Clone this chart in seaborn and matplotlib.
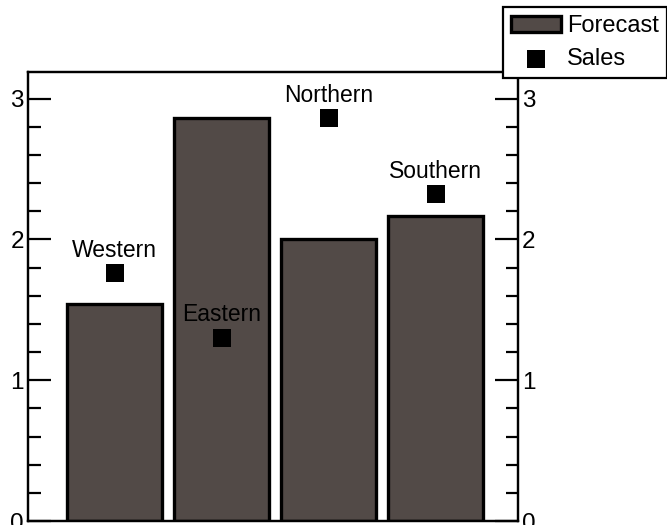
import matplotlib
matplotlib.use('Agg')
import matplotlib.pyplot as plt
import seaborn as sns
import pandas as pd
from matplotlib.ticker import MultipleLocator

# data
regions = ['Western', 'Eastern', 'Northern', 'Southern']
forecast = [1.54, 2.86, 2.0, 2.17]
sales = [1.76, 1.30, 2.86, 2.32]

df = pd.DataFrame({'Region': regions, 'Forecast': forecast, 'Sales': sales})

sns.set_style('ticks')
plt.rcParams['font.family'] = ['Liberation Sans', 'DejaVu Sans']
plt.rcParams['text.color'] = 'black'
plt.rcParams['ytick.color'] = 'black'
plt.rcParams['ytick.labelcolor'] = 'black'

fig = plt.figure(figsize=(6.67, 5.25), dpi=100)
ax = fig.add_axes([28/667, 1 - 521/525, (518 - 28)/667, (521 - 72)/525])

# forecast bars
sns.barplot(data=df, x='Region', y='Forecast', color='#524a47', width=0.89,
            edgecolor='black', linewidth=2.4, saturation=1, label='Forecast', ax=ax)
# sales markers
sns.scatterplot(data=df, x='Region', y='Sales', marker='s', s=160, color='black',
                linewidth=0, label='Sales', ax=ax, zorder=5)

for i, r in df.iterrows():
    ax.annotate(r['Region'], xy=(i, r['Sales']), xytext=(0, 12), textcoords='offset points',
                ha='center', va='baseline', fontsize=16.5, color='black', zorder=6)

ax.set_xlim(-0.81, 3.77)
ax.set_ylim(0, 3.19)
ax.set_xlabel('')
ax.set_ylabel('')
ax.set_xticks([])

for sp in ax.spines.values():
    sp.set_linewidth(1.6)
    sp.set_color('black')

ax.yaxis.set_major_locator(MultipleLocator(1))
ax.yaxis.set_minor_locator(MultipleLocator(0.2))
ax.tick_params(axis='y', which='major', direction='in', length=16.5, width=1.6, pad=3, labelsize=17.5)
ax.tick_params(axis='y', which='minor', direction='in', length=9, width=1.6)

# right hand axis mirrors the left one
ax2 = ax.twinx()
ax2.set_ylim(ax.get_ylim())
ax2.yaxis.set_major_locator(MultipleLocator(1))
ax2.yaxis.set_minor_locator(MultipleLocator(0.2))
ax2.tick_params(axis='y', which='major', direction='in', length=16.5, width=1.6, pad=3, labelsize=17.5)
ax2.tick_params(axis='y', which='minor', direction='in', length=9, width=1.6)
for sp in ax2.spines.values():
    sp.set_linewidth(1.6)
    sp.set_color('black')

handles, labels = ax.get_legend_handles_labels()
if ax.get_legend():
    ax.get_legend().remove()
order = [labels.index('Forecast'), labels.index('Sales')]
leg = fig.legend([handles[k] for k in order], [labels[k] for k in order],
                 loc='upper left', bbox_to_anchor=(503/667, 1 - 7/525),
                 fontsize=17, frameon=True, fancybox=False, borderaxespad=0,
                 borderpad=0.35, labelspacing=0.45, handlelength=2.1, handletextpad=0.25)
leg.get_frame().set_edgecolor('black')
leg.get_frame().set_linewidth(1.6)
leg.get_frame().set_alpha(1)

fig.savefig('out.png', dpi=100)
